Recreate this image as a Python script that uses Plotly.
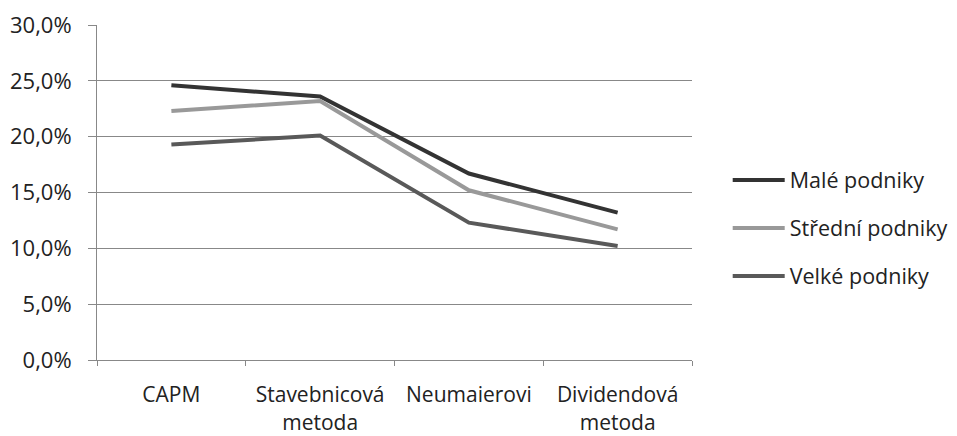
import plotly.graph_objects as go

# data
categories = ["CAPM", "Stavebnicová<br>metoda", "Neumaierovi", "Dividendová<br>metoda"]
male = [0.246, 0.236, 0.167, 0.132]
stredni = [0.223, 0.232, 0.152, 0.117]
velke = [0.193, 0.201, 0.123, 0.102]

series = [
    ("Malé podniky", male, "#333333"),
    ("Střední podniky", stredni, "#999999"),
    ("Velké podniky", velke, "#595959"),
]

fig = go.Figure()
for i, (name, vals, col) in enumerate(series):
    fig.add_trace(go.Scatter(
        x=categories, y=vals, name=name, mode="lines",
        line=dict(color=col, width=4),
        legendgroup=f"g{i}",
    ))

font = "'Open Sans', sans-serif"
fig.update_layout(
    width=957, height=436,
    # page body adds an 8px offset, margins compensate
    margin=dict(l=89, r=265, t=17, b=84),
    paper_bgcolor="white", plot_bgcolor="white",
    separators=", ",
    font=dict(family=font, size=22, color="#222222"),
    showlegend=True,
    legend=dict(
        x=1.06, xanchor="left", y=0.394, yanchor="middle",
        tracegroupgap=17, itemwidth=52,
        font=dict(size=21.5, color="#222222"),
    ),
    xaxis=dict(
        type="category", showgrid=False, showline=True, linecolor="#888888",
        linewidth=1, ticks="outside", tickson="boundaries", ticklen=5,
        tickcolor="#888888", range=[-0.5, 3.5], ticklabelstandoff=16,
        tickfont=dict(size=21), automargin=False,
    ),
    yaxis=dict(
        range=[0, 0.30], dtick=0.05, tickformat=".1%",
        showgrid=True, gridcolor="#888888", gridwidth=1,
        showline=True, linecolor="#888888", linewidth=1,
        ticks="outside", ticklen=8, tickcolor="#888888",
        zeroline=False, ticklabelstandoff=12, automargin=False,
    ),
)

fig.write_html("out.html")
